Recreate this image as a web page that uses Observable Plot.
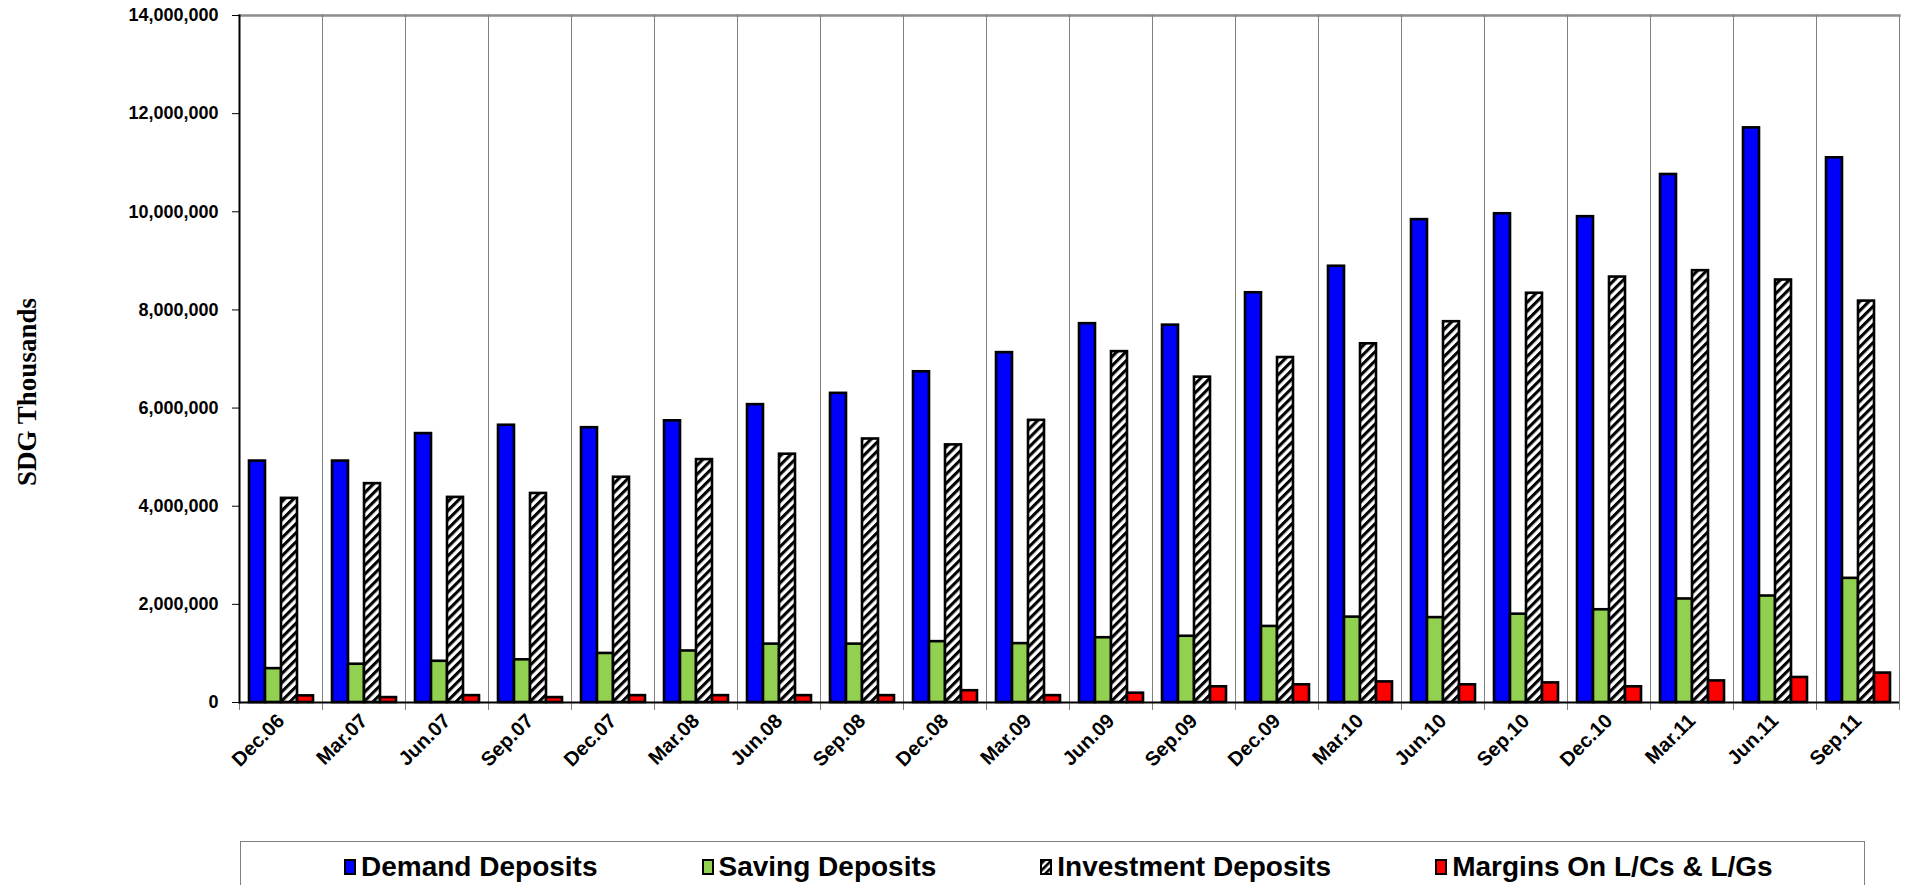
<!DOCTYPE html>
<html>
<head>
<meta charset="utf-8">
<script src="https://cdn.jsdelivr.net/npm/d3@7"></script>
<script src="https://cdn.jsdelivr.net/npm/@observablehq/plot@0.6"></script>
<style>
  body { margin: 0; background: #fff; font-family: "Liberation Sans", Arial, sans-serif; }
  #chart svg { display: block; }
  #legend {
    margin-left: 240px; margin-top: 6px; width: 1625px; height: 50px;
    border: 1px solid #808080; border-bottom: none; box-sizing: border-box;
    display: flex; align-items: center; padding-left: 103px; gap: 104px;
    font-weight: bold; font-size: 28px; color: #000; white-space: nowrap;
  }
  .item { display: flex; align-items: center; }
  .sw { width: 12px; height: 16px; border: 2px solid #000; margin-right: 5px; box-sizing: border-box; }
</style>
</head>
<body>
<div id="chart"></div>
<div id="legend"></div>
<script>
const categories = ["Dec.06","Mar.07","Jun.07","Sep.07","Dec.07","Mar.08","Jun.08","Sep.08","Dec.08","Mar.09","Jun.09","Sep.09","Dec.09","Mar.10","Jun.10","Sep.10","Dec.10","Mar.11","Jun.11","Sep.11"];
const seriesNames = ["Demand Deposits","Saving Deposits","Investment Deposits","Margins On L/Cs & L/Gs"];
const seriesColors = ["#0000ff","#92d050","url(#hatch)","#ff0000"];
const demand = [4920000,4920000,5480000,5650000,5600000,5740000,6070000,6300000,6740000,7130000,7720000,7690000,8350000,8890000,9840000,9960000,9900000,10760000,11710000,11100000];
const saving = [690000,780000,840000,870000,1000000,1050000,1190000,1190000,1240000,1200000,1320000,1350000,1550000,1740000,1730000,1800000,1890000,2110000,2170000,2530000];
const investment = [4160000,4460000,4180000,4260000,4590000,4950000,5060000,5370000,5250000,5750000,7150000,6630000,7030000,7310000,7760000,8340000,8670000,8800000,8610000,8180000];
const margins = [135000,100000,140000,100000,140000,140000,140000,140000,240000,140000,190000,320000,360000,420000,360000,400000,320000,440000,510000,600000];
const yTicks = [0,2000000,4000000,6000000,8000000,10000000,12000000,14000000];
const yTitle = "SDG Thousands";

const seriesValues = [demand, saving, investment, margins];
const data = categories.flatMap((c, i) => seriesNames.map((s, j) => ({date: c, series: s, value: seriesValues[j][i]})));

const chart = Plot.plot({
  width: 1905,
  height: 835,
  marginLeft: 236,
  marginRight: 3,
  marginTop: 15,
  marginBottom: 133,
  style: {fontFamily: "'Liberation Sans', Arial, sans-serif", color: "#000", background: "#fff"},
  fx: {domain: categories, padding: 0, label: null},
  x: {domain: seriesNames, paddingInner: 0, paddingOuter: 0.5, axis: null},
  y: {domain: [0, 14000000], label: null},
  color: {domain: seriesNames, range: seriesColors},
  marks: [
    Plot.frame({anchor: "left", stroke: "#808080", strokeWidth: 1, insetBottom: -7}),
    Plot.frame({anchor: "right", stroke: "#808080", strokeWidth: 1, insetBottom: -7}),
    Plot.frame({anchor: "top", stroke: "#8c8c8c", strokeWidth: 2.5}),
    Plot.barY(data, {fx: "date", x: "series", y: "value", fill: "series", stroke: "#000", strokeWidth: 2.6, inset: 0}),
    Plot.ruleY([0], {stroke: "#000", strokeWidth: 2}),
    Plot.frame({anchor: "left", stroke: "#000", strokeWidth: 2, facet: "super"}),
    Plot.axisY({ticks: yTicks, tickFormat: d3.format(","), tickSize: 7, tickPadding: 14, fontSize: 18, fontWeight: "bold", label: null}),
    Plot.axisFx({anchor: "bottom", tickRotate: -45, tickSize: 0, tickPadding: 15, fontSize: 20, fontWeight: "bold", label: null}),
    Plot.text([yTitle], {frameAnchor: "left", facet: "super", rotate: -90, dx: -212, dy: 33, textAnchor: "middle", lineAnchor: "middle", fontSize: 27, fontWeight: "bold", fontFamily: "'Liberation Serif', 'Times New Roman', serif", fill: "#000"})
  ]
});

// hatch pattern for Investment Deposits
const ns = "http://www.w3.org/2000/svg";
const defs = document.createElementNS(ns, "defs");
defs.innerHTML = `<pattern id="hatch" patternUnits="userSpaceOnUse" width="6.4" height="10" patternTransform="rotate(45)">
  <rect width="6.4" height="10" fill="#fff"></rect>
  <rect width="3.1" height="10" fill="#000"></rect>
</pattern>`;
chart.insertBefore(defs, chart.firstChild);
document.getElementById("chart").appendChild(chart);

// legend
const legend = document.getElementById("legend");
seriesNames.forEach((name, j) => {
  const item = document.createElement("div");
  item.className = "item";
  const sw = document.createElement("div");
  sw.className = "sw";
  if (j === 2) {
    sw.innerHTML = `<svg width="8" height="12" style="display:block"><defs><pattern id="hatchL" patternUnits="userSpaceOnUse" width="5" height="10" patternTransform="rotate(45)"><rect width="5" height="10" fill="#fff"></rect><rect width="2.6" height="10" fill="#000"></rect></pattern></defs><rect width="8" height="12" fill="url(#hatchL)"></rect></svg>`;
  } else {
    sw.style.background = seriesColors[j];
  }
  const label = document.createElement("span");
  label.textContent = name;
  item.appendChild(sw);
  item.appendChild(label);
  legend.appendChild(item);
});
</script>
</body>
</html>
